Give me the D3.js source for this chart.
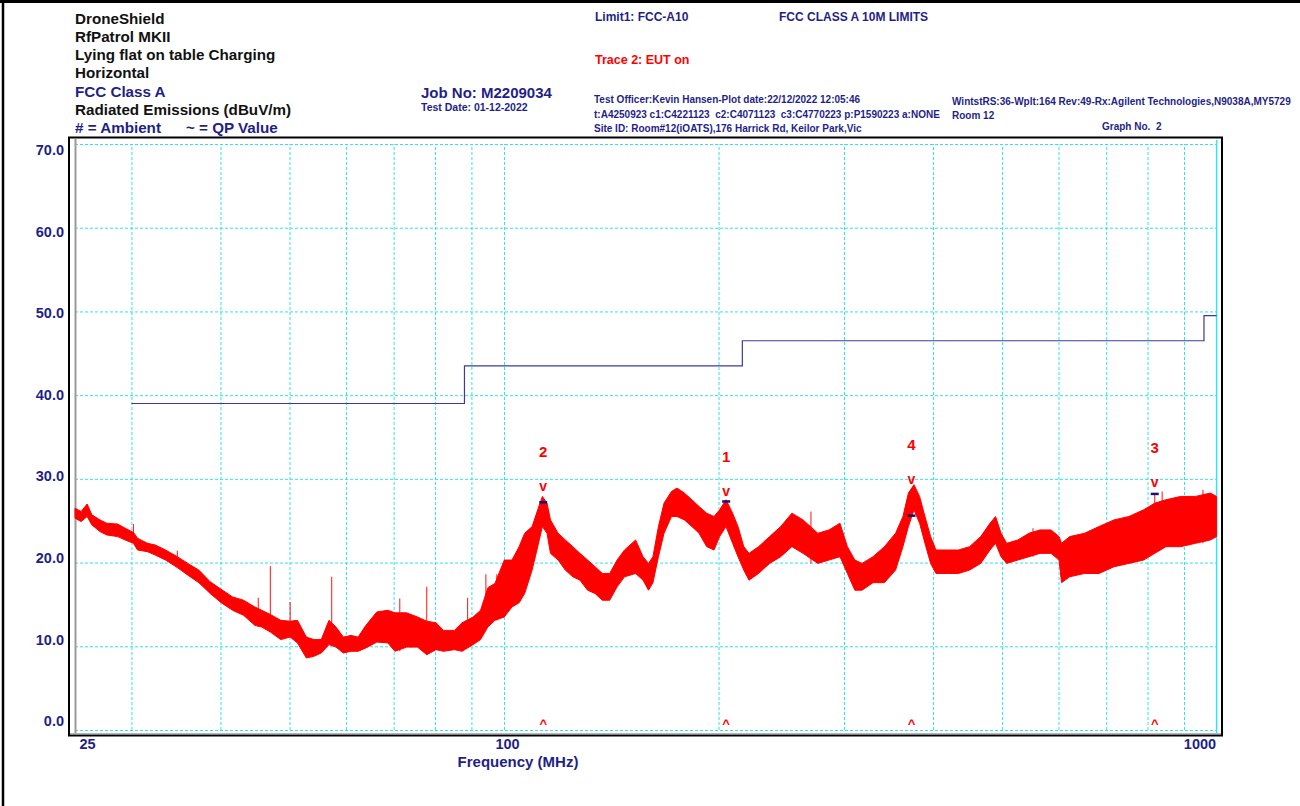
<!DOCTYPE html>
<html>
<head>
<meta charset="utf-8">
<script src="https://cdn.jsdelivr.net/npm/d3@7"></script>
<style>
  body { margin: 0; background: #fff; }
  svg { display: block; font-family: "Liberation Sans", Arial, sans-serif; font-weight: bold; }
</style>
</head>
<body>
<div class="chart__container"></div>
<script>
//data

// trace 2 (EUT on), min / max of the sweep at each frequency (MHz, dBuV/m)
const FREQ = [25.0, 25.5, 26.0, 26.4, 27.1, 27.7, 28.7, 29.4, 30.2, 30.6, 31.6, 32.4, 33.5, 34.8, 36.0, 37.3, 38.7, 40.1, 41.6, 43.1,
    44.7, 45.7, 47.0, 48.6, 50.1, 51.3, 52.8, 54.1, 55.4, 56.8, 58.1, 59.5, 61.0, 62.4, 64.0, 66.3, 68.7, 70.3, 73.0, 75.6,
    77.9, 80.3, 82.2, 85.2, 87.3, 90.5, 92.7, 94.9, 97.1, 100.1, 102.6, 105.0, 106.9, 109.5, 111.5, 113.2, 114.9, 116.2, 119.1, 121.9,
    124.9, 127.8, 131.0, 134.2, 137.4, 140.7, 144.1, 147.6, 153.0, 156.7, 159.5, 161.8, 164.7, 167.7, 171.8, 174.9, 179.1, 183.5, 187.8, 192.5,
    197.1, 200.7, 204.9, 209.3, 213.0, 217.0, 220.7, 227.6, 235.9, 244.5, 253.5, 262.8, 275.7, 285.8, 296.1, 303.3, 310.7, 318.0, 329.4, 341.8,
    354.4, 362.9, 369.4, 376.1, 383.0, 389.7, 396.9, 403.8, 418.9, 434.2, 450.1, 466.6, 480.8, 489.6, 498.3, 507.5, 526.1, 545.3, 565.2, 585.6,
    601.0, 605.9, 622.0, 652.5, 683.8, 717.8, 753.1, 789.9, 818.8, 849.0, 890.2, 934.2, 980.0, 1000];
const TRACE_HI = [26.5, 26.1, 27.0, 25.7, 25.1, 24.7, 24.6, 24.1, 23.6, 22.9, 22.3, 22.1, 21.5, 20.7, 19.9, 19.1, 17.7, 16.8, 15.9, 15.5,
    14.7, 14.3, 13.8, 13.1, 13.0, 13.1, 11.1, 10.8, 10.8, 13.1, 12.3, 11.1, 11.3, 11.1, 12.5, 14.1, 14.3, 14.0, 14.0, 13.5,
    13.0, 12.8, 11.9, 11.9, 12.8, 13.5, 14.3, 17.0, 17.5, 20.3, 20.3, 21.9, 23.5, 24.3, 26.3, 27.9, 27.1, 25.1, 23.5, 22.7,
    21.9, 21.1, 20.3, 19.5, 18.7, 18.7, 20.3, 21.5, 22.7, 20.7, 19.9, 20.7, 24.3, 27.1, 28.5, 28.9, 28.3, 27.5, 26.7, 25.9,
    25.5, 26.3, 27.5, 25.9, 24.3, 21.9, 21.1, 21.9, 23.1, 24.3, 25.9, 25.1, 23.5, 23.9, 24.7, 21.9, 20.3, 19.9, 20.7, 21.9,
    23.5, 25.5, 28.3, 29.3, 27.9, 25.5, 23.1, 21.5, 21.5, 21.5, 21.9, 23.1, 24.7, 25.5, 23.5, 22.3, 22.7, 23.5, 23.9, 23.9,
    23.1, 22.3, 23.1, 23.5, 24.3, 25.1, 25.5, 26.3, 27.1, 27.5, 27.9, 27.9, 28.3, 27.9];
const TRACE_LO = [25.3, 24.9, 25.5, 24.5, 23.7, 23.3, 23.1, 22.7, 22.3, 21.5, 21.3, 20.9, 20.3, 19.4, 18.5, 17.6, 16.3, 15.2, 14.3, 13.7,
    12.5, 12.3, 11.7, 10.8, 11.1, 10.4, 8.6, 8.8, 9.2, 10.2, 9.9, 9.2, 9.4, 9.4, 9.8, 10.5, 10.4, 9.4, 9.9, 9.9,
    9.0, 9.6, 9.4, 9.6, 9.4, 10.2, 10.8, 12.3, 13.1, 13.5, 14.7, 15.2, 16.3, 19.1, 21.9, 24.3, 23.5, 21.1, 20.3, 19.1,
    18.3, 17.9, 16.7, 16.3, 15.5, 15.5, 17.1, 18.3, 18.7, 17.9, 16.7, 17.6, 20.7, 23.5, 25.5, 25.5, 25.1, 24.3, 23.5, 21.9,
    21.5, 23.1, 24.3, 22.3, 20.7, 19.1, 17.9, 18.7, 19.9, 20.7, 21.9, 21.1, 19.9, 20.3, 20.7, 18.7, 16.7, 16.7, 17.6, 17.6,
    19.1, 21.9, 24.3, 26.3, 24.7, 22.3, 19.9, 18.7, 18.7, 18.7, 19.1, 19.9, 21.5, 22.3, 20.7, 19.9, 20.3, 20.7, 21.1, 21.1,
    20.3, 17.6, 18.3, 18.7, 18.7, 19.5, 19.9, 20.3, 21.1, 21.9, 21.9, 22.3, 22.7, 23.1];

// narrow spikes sticking out of the trace
const SPIKE_FREQ = [30.2, 34.8, 45.2, 47.0, 50.1, 57.3, 71.4, 77.9, 88.9, 94.3, 97.7, 269.6, 552.5, 818.8, 838.7, 869.6, 956.8];
const SPIKE_TOP = [24.6, 21.4, 15.8, 19.6, 15.3, 18.3, 15.7, 17.1, 15.8, 18.6, 18.6, 26.1, 24.1, 28.3, 28.5, 27.5, 28.7];

// FCC class A 10 m limit (steps)
const LIMIT_FREQ = [30, 88, 216, 960, 1000];
const LIMIT_LEVEL = [39.0, 43.5, 46.5, 49.5, 49.5];

// peak markers
const MARKER_NAME = ["1", "2", "3", "4"];
const MARKER_FREQ = [205.0, 113.5, 818.8, 373.1];
const MARKER_PEAK = [28.4, 29.0, 29.5, 29.9];
const MARKER_QP = [27.3, 27.2, 28.2, 25.6];

// axes
const Y_TICKS = [0, 10, 20, 30, 40, 50, 60, 70];
const X_GRID = [30, 40, 50, 60, 70, 80, 90, 100, 200, 300, 400, 500, 600, 700, 800, 900];
const X_LABELS = [25, 100, 1000];


const CHART__WIDTH = 1300;
const CHART__HEIGHT = 806;
const NAVY = "#1f1f87";
const CYAN = "#2fe3f2";
const RED = "#ff0000";

const PLOT = { left: 75, right: 1216.6, top: 144, bottom: 730 };

const xScale = d3.scaleLog().domain([25, 1000]).range([PLOT.left, PLOT.right]);
const yScale = d3.scaleLinear().domain([0, 70]).range([PLOT.bottom, PLOT.top]);
// the printed dB labels don't sit exactly on the grid lines
const yLabelScale = d3.scaleLinear().domain([0, 70]).range([721, 150]);


const svg = d3.select(".chart__container").append("svg")
    .attr("width", CHART__WIDTH)
    .attr("height", CHART__HEIGHT)
    .style("background-color", "#fff");

//page border
svg.append("line").attr("x1", 0).attr("x2", CHART__WIDTH).attr("y1", 1.5).attr("y2", 1.5)
    .attr("stroke", "#000").attr("stroke-width", 3);
svg.append("line").attr("x1", 3).attr("x2", 3).attr("y1", 0).attr("y2", CHART__HEIGHT)
    .attr("stroke", "#000").attr("stroke-width", 2.5);

/*-----------------------------------header-----------------------------------*/

const header = svg.append("g");

const addText = (x, y, txt, size, color) => {
    header.append("text")
        .attr("x", x)
        .attr("y", y)
        .attr("xml:space", "preserve")
        .style("white-space", "pre")
        .attr("font-size", size)
        .attr("fill", color)
        .text(txt);
}

addText(75, 24, "DroneShield", 15.2, "#111");
addText(75, 42, "RfPatrol MKII", 15.2, "#111");
addText(75, 60, "Lying flat on table Charging", 15.2, "#111");
addText(75, 78, "Horizontal", 15.2, "#111");
addText(75, 97, "FCC Class A", 15.2, NAVY);
addText(75, 115, "Radiated Emissions (dBuV/m)", 15.2, "#111");
addText(75, 133, "# = Ambient", 15.2, NAVY);
addText(186, 133, "~ = QP Value", 15.2, NAVY);

addText(421, 98, "Job No: M2209034", 15, NAVY);
addText(421, 111, "Test Date: 01-12-2022", 10.5, NAVY);

addText(595, 21, "Limit1: FCC-A10", 12, NAVY);
addText(779, 21, "FCC CLASS A 10M LIMITS", 12, NAVY);
addText(595, 64, "Trace 2: EUT on", 12.5, RED);

addText(594, 103, "Test Officer:Kevin Hansen-Plot date:22/12/2022 12:05:46", 10, NAVY);
addText(594, 118, "t:A4250923 c1:C4221123  c2:C4071123  c3:C4770223 p:P1590223 a:NONE", 10, NAVY);
addText(594, 132, "Site ID: Room#12(iOATS),176 Harrick Rd, Keilor Park,Vic", 10, NAVY);
addText(952, 105, "WintstRS:36-Wplt:164 Rev:49-Rx:Agilent Technologies,N9038A,MY5729", 10, NAVY);
addText(952, 119, "Room 12", 10, NAVY);
addText(1102, 130, "Graph No.  2", 10, NAVY);

/*-----------------------------------grid-----------------------------------*/

const grid = svg.append("g");

const yGrid = d3.axisLeft(yScale).tickValues(Y_TICKS).tickSize(-(PLOT.right - PLOT.left)).tickFormat("");
grid.append("g").attr("transform", `translate(${PLOT.left},0)`).call(yGrid);

const xGrid = d3.axisBottom(xScale).tickValues(X_GRID).tickSize(-(PLOT.bottom - PLOT.top)).tickFormat("");
grid.append("g").attr("transform", `translate(0,${PLOT.bottom})`).call(xGrid);

grid.selectAll(".domain").remove();
grid.selectAll(".tick line")
    .attr("stroke", CYAN)
    .attr("stroke-width", 1)
    .attr("stroke-dasharray", "3,2");

// right edge (1000 MHz) is a solid cyan line
grid.append("line")
    .attr("x1", xScale(1000)).attr("x2", xScale(1000))
    .attr("y1", PLOT.top - 4).attr("y2", PLOT.bottom + 3)
    .attr("stroke", CYAN).attr("stroke-width", 1.5);

//frame
svg.append("rect")
    .attr("x", 69).attr("y", 137.5)
    .attr("width", 1153).attr("height", 598)
    .attr("fill", "none").attr("stroke", "#000").attr("stroke-width", 2);
svg.append("line").attr("x1", 75.5).attr("x2", 75.5).attr("y1", 139).attr("y2", 734)
    .attr("stroke", "#9a9a9a").attr("stroke-width", 2);
svg.append("line").attr("x1", 70).attr("x2", 1221).attr("y1", 733.5).attr("y2", 733.5)
    .attr("stroke", "#b5b5b5").attr("stroke-width", 1);

/*-----------------------------------axes labels-----------------------------------*/

const yAxis = svg.append("g")
    .attr("transform", "translate(64,0)")
    .call(d3.axisLeft(yLabelScale).tickValues(Y_TICKS).tickSize(0).tickPadding(0).tickFormat(d3.format(".1f")));

const xAxis = svg.append("g")
    .attr("transform", "translate(0,736)")
    .call(d3.axisBottom(xScale).tickValues(X_LABELS).tickSize(0).tickPadding(3).tickFormat(d3.format("d")));

[yAxis, xAxis].forEach(ax => {
    ax.select(".domain").remove();
    ax.selectAll("text")
        .attr("fill", NAVY)
        .attr("font-size", 14.5)
        .attr("font-weight", "bold")
        .attr("font-family", '"Liberation Sans", Arial, sans-serif');
});

xAxis.selectAll("text")
    .attr("text-anchor", (d, i) => i === 0 ? "start" : (i === X_LABELS.length - 1 ? "end" : "middle"))
    .attr("dx", (d, i) => i === 0 ? 4 : (i === X_LABELS.length - 1 ? -1 : 3));

svg.append("text")
    .attr("x", 518)
    .attr("y", 767)
    .attr("text-anchor", "middle")
    .attr("font-size", 15)
    .attr("fill", NAVY)
    .text("Frequency (MHz)");

/*-----------------------------------limit & trace-----------------------------------*/

const limitData = LIMIT_FREQ.map((f, i) => ({ f: f, v: LIMIT_LEVEL[i] }));
svg.append("path")
    .datum(limitData)
    .attr("fill", "none")
    .attr("stroke", "#3b3b9e")
    .attr("stroke-width", 1.2)
    .attr("d", d3.line().x(d => xScale(d.f)).y(d => yScale(d.v)).curve(d3.curveStepAfter));

const traceData = FREQ.map((f, i) => ({ f: f, hi: TRACE_HI[i], lo: TRACE_LO[i] }));

const trace = svg.append("g");

// band between sweep min and max
trace.append("path")
    .datum(traceData)
    .attr("fill", RED)
    .attr("stroke", RED)
    .attr("stroke-width", 1)
    .attr("stroke-linejoin", "bevel")
    .attr("d", d3.area().x(d => xScale(d.f)).y0(d => yScale(d.lo)).y1(d => yScale(d.hi)));

// spikes go from the bottom of the trace up to their tip
const nearestLo = f => traceData[d3.minIndex(traceData, d => Math.abs(Math.log(d.f / f)))].lo;

trace.selectAll(".spike")
    .data(SPIKE_FREQ.map((f, i) => ({ f: f, top: SPIKE_TOP[i] })))
    .enter()
    .append("line")
    .attr("class", "spike")
    .attr("x1", d => xScale(d.f))
    .attr("x2", d => xScale(d.f))
    .attr("y1", d => yScale(d.top))
    .attr("y2", d => yScale(nearestLo(d.f)))
    .attr("stroke", RED)
    .attr("stroke-opacity", 0.85)
    .attr("stroke-width", 1.1);

/*-----------------------------------markers-----------------------------------*/

const markerData = MARKER_NAME.map((n, i) => ({ n: n, f: MARKER_FREQ[i], peak: MARKER_PEAK[i], qp: MARKER_QP[i] }));
const markers = svg.append("g").selectAll("g").data(markerData).enter().append("g");

markers.append("text")
    .attr("x", d => xScale(d.f))
    .attr("y", d => yScale(d.peak) - 30)
    .attr("text-anchor", "middle")
    .attr("font-size", 15)
    .attr("fill", RED)
    .text(d => d.n);

markers.append("text")
    .attr("x", d => xScale(d.f))
    .attr("y", d => yScale(d.peak) + 4)
    .attr("text-anchor", "middle")
    .attr("font-size", 14)
    .attr("fill", RED)
    .text("v");

markers.append("line")
    .attr("x1", d => xScale(d.f) - 4)
    .attr("x2", d => xScale(d.f) + 4)
    .attr("y1", d => yScale(d.qp))
    .attr("y2", d => yScale(d.qp))
    .attr("stroke", "#14147a")
    .attr("stroke-width", 2.5);

markers.append("text")
    .attr("x", d => xScale(d.f))
    .attr("y", yScale(0) - 2)
    .attr("text-anchor", "middle")
    .attr("font-size", 13)
    .attr("fill", RED)
    .text("^");
</script>
</body>
</html>
